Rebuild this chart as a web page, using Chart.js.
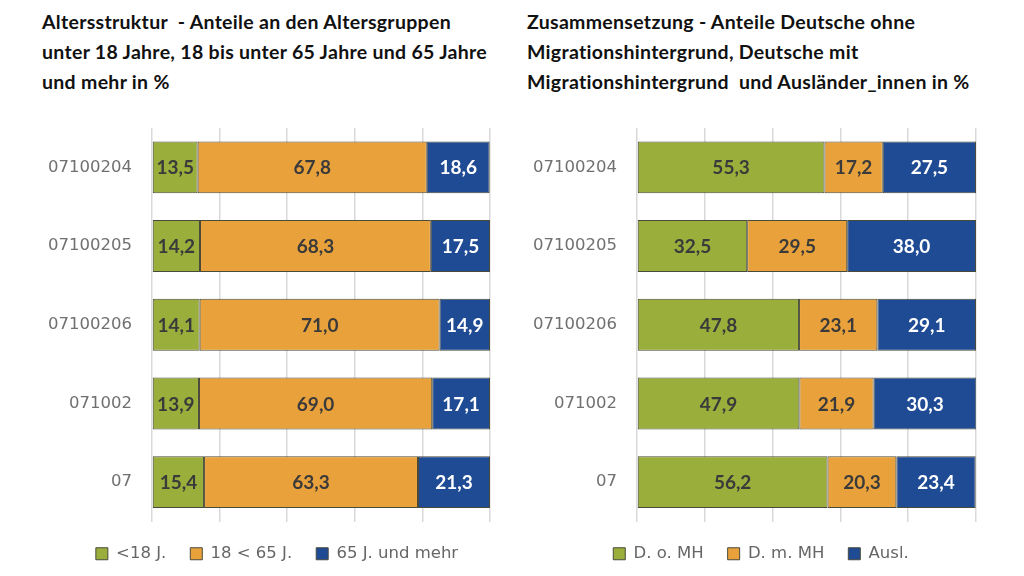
<!DOCTYPE html>
<html>
<head>
<meta charset="utf-8">
<script src="https://cdn.jsdelivr.net/npm/chart.js@4/dist/chart.umd.min.js"></script>
<style>
  body { margin: 0; background: #fff; width: 1024px; height: 576px; overflow: hidden; position: relative; }
  .title { position: absolute; top: 7px; font-family: Lato, sans-serif; font-weight: bold; font-size: 19.5px; letter-spacing: 0.3px; line-height: 30px; color: #111; white-space: nowrap; }
  .box { position: absolute; top: 0; width: 512px; height: 576px; }
</style>
</head>
<body>
<div class="title" style="left:42px">Altersstruktur &nbsp;- Anteile an den Altersgruppen<br>unter 18 Jahre, 18 bis unter 65 Jahre und 65 Jahre<br>und mehr in %</div>
<div class="title" style="left:527px">Zusammensetzung - Anteile Deutsche ohne<br>Migrationshintergrund, Deutsche mit<br>Migrationshintergrund &nbsp;und Ausländer_innen in %</div>
<div class="box" style="left:0"><canvas id="ageChart"></canvas></div>
<div class="box" style="left:512px"><canvas id="migChart"></canvas></div>
<script>
const areas = ['07100204', '07100205', '07100206', '071002', '07'];

// Altersstruktur
const ageLabels = ['<18 J.', '18 < 65 J.', '65 J. und mehr'];
const under18 = [13.5, 14.2, 14.1, 13.9, 15.4];
const age18to65 = [67.8, 68.3, 71.0, 69.0, 63.3];
const over65 = [18.6, 17.5, 14.9, 17.1, 21.3];

// Zusammensetzung
const migLabels = ['D. o. MH', 'D. m. MH', 'Ausl.'];
const ohneMH = [55.3, 32.5, 47.8, 47.9, 56.2];
const mitMH = [17.2, 29.5, 23.1, 21.9, 20.3];
const auslaender = [27.5, 38.0, 29.1, 30.3, 23.4];

const colors = ['#9aae3b', '#e9a23b', '#1f4a94'];
const labelColors = ['#3a3a3a', '#3a3a3a', '#ffffff'];

// Werte mittig in die Balken schreiben
const barValues = {
  id: 'barValues',
  afterDatasetsDraw(chart) {
    const c = chart.ctx;
    c.save();
    c.font = 'bold 19px Lato, sans-serif';
    c.textAlign = 'center';
    c.textBaseline = 'middle';
    chart.data.datasets.forEach((ds, i) => {
      chart.getDatasetMeta(i).data.forEach((bar, j) => {
        c.fillStyle = labelColors[i];
        const x = (bar.x + bar.base) / 2;
        c.fillText(ds.data[j].toFixed(1).replace('.', ','), x, bar.y + 1);
      });
    });
    c.restore();
  }
};

// Legende horizontal verschieben (Legende ist nicht mittig unter dem Plot)
const legendShift = {
  id: 'legendShift',
  afterLayout(chart, args, opts) {
    chart.legend.left += opts.dx;
    chart.legend.right += opts.dx;
  }
};

function makeChart(id, names, series, padLeft, padRight, axisWidth, dx) {
  const ctx = document.getElementById(id).getContext('2d');
  return new Chart(ctx, {
    type: 'bar',
    data: {
      labels: areas,
      datasets: series.map((d, i) => ({
        label: names[i],
        data: d,
        backgroundColor: colors[i],
        borderColor: '#4a4a3a',
        borderWidth: 1,
        borderSkipped: false,
        barPercentage: 0.66,
        categoryPercentage: 1
      }))
    },
    options: {
      indexAxis: 'y',
      responsive: false,
      animation: false,
      layout: { padding: { left: padLeft, right: padRight, top: 128, bottom: 4 } },
      scales: {
        x: {
          stacked: true,
          min: 0,
          max: 100,
          ticks: { display: false, stepSize: 20 },
          grid: { color: '#d9d9d9', lineWidth: 1.5, drawTicks: false },
          border: { display: false },
          afterFit(scale) { scale.height = 0; }
        },
        y: {
          stacked: true,
          grid: { display: false },
          border: { display: false },
          ticks: { color: '#707070', padding: 12, font: { family: '"DejaVu Sans", sans-serif', size: 16.5 } },
          afterFit(scale) { scale.width = axisWidth; }
        }
      },
      plugins: {
        legend: {
          position: 'bottom',
          labels: {
            boxWidth: 12,
            boxHeight: 12,
            padding: 24,
            color: '#666666',
            font: { family: '"DejaVu Sans", sans-serif', size: 16.5 }
          }
        },
        legendShift: { dx: dx },
        tooltip: { enabled: false }
      }
    },
    plugins: [barValues, legendShift]
  });
}

document.querySelectorAll('canvas').forEach(cv => { cv.width = 512; cv.height = 576; });
makeChart('ageChart', ageLabels, [under18, age18to65, over65], 30, 22, 122, 17);
makeChart('migChart', migLabels, [ohneMH, mitMH, auslaender], 10, 48, 115, 12);
</script>
</body>
</html>
